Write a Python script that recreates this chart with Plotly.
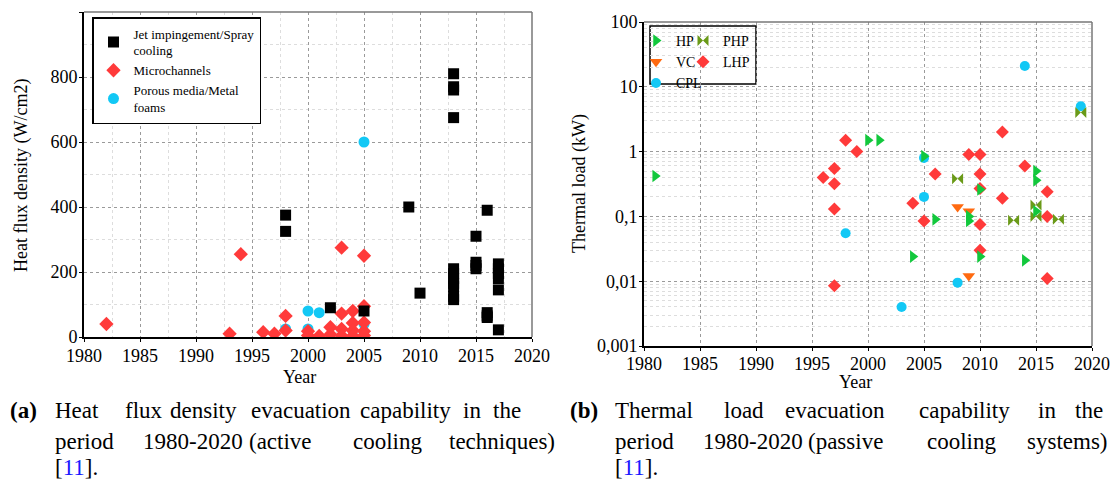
import plotly.graph_objects as go

# the page body has an 8px margin, so the figure is offset by 8px inside the window
OFF = 8
W, H = 1104, 473
FONT = "Liberation Serif, Times New Roman, Times, serif"

# ---------------- data: (a) heat flux density ----------------
jet_year = [1998, 1998, 2002, 2005, 2009, 2010, 2013, 2013, 2013, 2013, 2013, 2013, 2013, 2013,
            2013, 2013, 2013, 2015, 2015, 2015, 2015, 2016, 2016, 2016, 2016, 2017, 2017, 2017,
            2017, 2017, 2017]
jet_val = [375, 325, 90, 80, 400, 135, 810, 770, 760, 675, 210, 195, 180, 165, 155, 125, 115,
           310, 230, 220, 210, 390, 75, 65, 60, 225, 210, 195, 180, 145, 22]

mic_year = [1982, 1993, 1994, 1996, 1997, 1998, 1998, 2000, 2000, 2001, 2002, 2002, 2003, 2003,
            2003, 2003, 2004, 2004, 2004, 2004, 2005, 2005, 2005, 2005, 2005]
mic_val = [40, 10, 255, 15, 10, 65, 20, 18, 5, 3, 30, 8, 275, 72, 25, 4, 80, 43, 20, 3,
           250, 95, 45, 18, 5]

por_year = [1998, 2000, 2000, 2001, 2004, 2005, 2005]
por_val = [25, 80, 25, 75, 2, 600, 40]

# ---------------- data: (b) thermal load ----------------
hp_year = [1981, 2000, 2001, 2004, 2005, 2006, 2009, 2009, 2010, 2010, 2014, 2015, 2015, 2015]
hp_val = [0.42, 1.5, 1.5, 0.024, 0.85, 0.09, 0.1, 0.085, 0.26, 0.024, 0.021, 0.5, 0.36, 0.12]

php_year = [2008, 2013, 2015, 2015, 2017, 2019]
php_val = [0.38, 0.087, 0.15, 0.1, 0.09, 4]

vc_year = [2008, 2009, 2009]
vc_val = [0.14, 0.12, 0.012]

lhp_year = [1996, 1997, 1997, 1997, 1997, 1998, 1999, 2004, 2005, 2006, 2009, 2010, 2010, 2010,
            2010, 2010, 2012, 2012, 2014, 2016, 2016, 2016]
lhp_val = [0.4, 0.55, 0.32, 0.13, 0.0085, 1.5, 1.0, 0.16, 0.085, 0.45, 0.9, 0.9, 0.45, 0.27,
           0.075, 0.03, 2.0, 0.19, 0.6, 0.24, 0.1, 0.011]

cpl_year = [1998, 2003, 2005, 2005, 2008, 2014, 2019]
cpl_val = [0.055, 0.004, 0.8, 0.2, 0.0095, 21, 5]

x_ticks = [1980, 1985, 1990, 1995, 2000, 2005, 2010, 2015, 2020]
y1_ticks = [0, 200, 400, 600, 800, 1000]
y2_tickvals = [0.001, 0.01, 0.1, 1, 10, 100]
y2_ticktext = ["0,001", "0,01", "0,1", "1", "10", "100"]

RED = "#ff3a3a"
CYAN = "#12c8f5"
GREEN = "#12c83c"
ORANGE = "#ff6a10"
OLIVE = "#6a9a18"


def px_x(p):
    return (p - OFF) / W


def px_y(p):
    return 1 - (p - OFF) / H


fig = go.Figure()

# left chart traces (draw order: cyan, red, black)
fig.add_trace(go.Scatter(x=por_year, y=por_val, mode="markers", name="Porous media/Metal<br>foams",
                         marker=dict(symbol="circle", size=11, color=CYAN),
                         xaxis="x", yaxis="y", legend="legend", legendrank=3))
fig.add_trace(go.Scatter(x=mic_year, y=mic_val, mode="markers", name="Microchannels",
                         marker=dict(symbol="diamond", size=11, color=RED),
                         xaxis="x", yaxis="y", legend="legend", legendrank=2))
fig.add_trace(go.Scatter(x=jet_year, y=jet_val, mode="markers", name="Jet impingement/Spray<br>cooling",
                         marker=dict(symbol="square", size=11, color="black"),
                         xaxis="x", yaxis="y", legend="legend", legendrank=1))

# right chart traces
fig.add_trace(go.Scatter(x=lhp_year, y=lhp_val, mode="markers", name="LHP",
                         marker=dict(symbol="diamond", size=10, color=RED),
                         xaxis="x2", yaxis="y2", legend="legend3", legendrank=2))
fig.add_trace(go.Scatter(x=cpl_year, y=cpl_val, mode="markers", name="CPL",
                         marker=dict(symbol="circle", size=10, color=CYAN),
                         xaxis="x2", yaxis="y2", legend="legend2", legendrank=3))
fig.add_trace(go.Scatter(x=vc_year, y=vc_val, mode="markers", name="VC",
                         marker=dict(symbol="triangle-down", size=11, color=ORANGE),
                         xaxis="x2", yaxis="y2", legend="legend2", legendrank=2))
fig.add_trace(go.Scatter(x=php_year, y=php_val, mode="markers", name="PHP",
                         marker=dict(symbol="bowtie", size=11, color=OLIVE),
                         xaxis="x2", yaxis="y2", legend="legend3", legendrank=1))
fig.add_trace(go.Scatter(x=hp_year, y=hp_val, mode="markers", name="HP",
                         marker=dict(symbol="triangle-right", size=11, color=GREEN),
                         xaxis="x2", yaxis="y2", legend="legend2", legendrank=1))

axis_common = dict(
    showline=True, linecolor="black", linewidth=2,
    ticks="outside", ticklen=3, tickcolor="black", tickwidth=1,
    showgrid=True, gridcolor="#9a9a9a", griddash="dot", gridwidth=1,
    zeroline=False, automargin=False,
    tickfont=dict(family=FONT, size=18, color="black"),
)

fig.update_layout(
    width=W, height=H,
    margin=dict(l=0, r=0, t=0, b=0, autoexpand=False),
    paper_bgcolor="white", plot_bgcolor="white",
    font=dict(family=FONT, color="black"),
    xaxis=dict(domain=[px_x(84), px_x(532)], anchor="y", range=[1980, 2020], tickvals=x_ticks,
               ticklabelstandoff=-2,
               minor=dict(dtick=2.5, tick0=1980, showgrid=True, gridcolor="#dddddd", griddash="dot"),
               **axis_common),
    yaxis=dict(domain=[px_y(337), px_y(12)], anchor="x", range=[0, 1000], tickvals=y1_ticks,
               ticklabelstandoff=-2,
               minor=dict(dtick=100, showgrid=True, gridcolor="#dddddd", griddash="dot"),
               **axis_common),
    xaxis2=dict(domain=[px_x(644), px_x(1092)], anchor="y2", range=[1980, 2020], tickvals=x_ticks,
                ticklabelstandoff=-3,
                **axis_common),
    yaxis2=dict(domain=[px_y(346), px_y(22)], anchor="x2", type="log", range=[-3, 2],
                tickvals=y2_tickvals, ticktext=y2_ticktext, ticklabelstandoff=-2,
                minor=dict(dtick="D1", showgrid=True, gridcolor="#dddddd", griddash="dot"),
                **axis_common),
    legend=dict(x=px_x(92), y=px_y(17), xanchor="left", yanchor="top",
                bgcolor="white", bordercolor="black", borderwidth=1.5,
                font=dict(family=FONT, size=13, color="black"), tracegroupgap=0,
                itemwidth=30),
    legend2=dict(x=px_x(636), y=px_y(25), xanchor="left", yanchor="top",
                 bgcolor="rgba(0,0,0,0)", borderwidth=0,
                 font=dict(family=FONT, size=14, color="black"), tracegroupgap=0, itemwidth=30),
    legend3=dict(x=px_x(683), y=px_y(25), xanchor="left", yanchor="top",
                 bgcolor="rgba(0,0,0,0)", borderwidth=0,
                 font=dict(family=FONT, size=14, color="black"), tracegroupgap=0, itemwidth=30),
)

shapes = [
    # grey top/right frame lines
    dict(type="line", xref="x domain", yref="y domain", x0=0, x1=1, y0=1, y1=1,
         line=dict(color="#777777", width=1.5)),
    dict(type="line", xref="x domain", yref="y domain", x0=1, x1=1, y0=0, y1=1,
         line=dict(color="#777777", width=1.5)),
    dict(type="line", xref="x2 domain", yref="y2 domain", x0=0, x1=1, y0=1, y1=1,
         line=dict(color="#777777", width=1.5)),
    dict(type="line", xref="x2 domain", yref="y2 domain", x0=1, x1=1, y0=0, y1=1,
         line=dict(color="#777777", width=1.5)),
    # legend box of panel (b)
    dict(type="rect", xref="paper", yref="paper", x0=px_x(650), x1=px_x(756),
         y0=px_y(84), y1=px_y(26), line=dict(color="black", width=1.5),
         fillcolor="white", layer="below"),
]
fig.update_layout(shapes=shapes)

ann = []


def label(text, xpx, ypx, angle=0, size=18):
    ann.append(dict(text=text, x=px_x(xpx), y=px_y(ypx), xref="paper", yref="paper",
                    xanchor="center", yanchor="middle", textangle=angle, showarrow=False,
                    font=dict(family=FONT, size=size, color="black")))


# axis titles
label("Heat flux density (W/cm2)", 21, 176, angle=-90)
label("Year", 299, 377)
label("Thermal load (kW)", 579, 184, angle=-90)
label("Year", 855, 382)

# captions (justified: words placed individually)
CAP = 23
cap_a = [
    (410, [("<b>(a)</b>", 8), ("Heat", 53), ("flux", 123), ("density", 168), ("evacuation", 249),
           ("capability", 358), ("in", 461), ("the", 491)]),
    (441, [("period", 53), ("1980-2020", 141), ("(active", 247), ("cooling", 351), ("techniques)", 447)]),
    (467, [("[<span style='color:#1a1aff'>11</span>].", 53)]),
]
cap_b = [
    (410, [("<b>(b)</b>", 568), ("Thermal", 613), ("load", 722), ("evacuation", 783),
           ("capability", 917), ("in", 1036), ("the", 1073)]),
    (441, [("period", 613), ("1980-2020", 701), ("(passive", 806), ("cooling", 925), ("systems)", 1025)]),
    (467, [("[<span style='color:#1a1aff'>11</span>].", 613)]),
]
for lines in (cap_a, cap_b):
    for ypx, words in lines:
        for txt, xpx in words:
            ann.append(dict(text=txt, x=px_x(xpx), y=px_y(ypx), xref="paper", yref="paper",
                            xanchor="left", yanchor="middle", showarrow=False,
                            font=dict(family=FONT, size=CAP, color="black")))

fig.update_layout(annotations=ann)

fig.write_html("out.html")
